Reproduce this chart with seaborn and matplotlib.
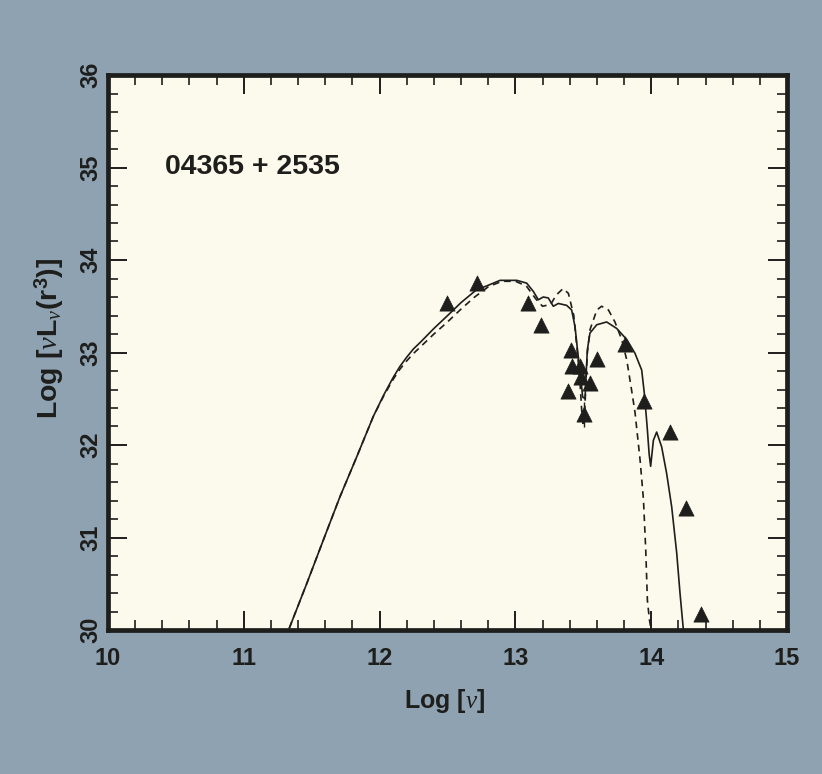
import matplotlib
matplotlib.use("Agg")
import matplotlib.pyplot as plt
import seaborn as sns
import pandas as pd
from matplotlib.ticker import MultipleLocator

# ---- data ----
model_solid_x = [11.335, 11.463, 11.585, 11.708, 11.831, 11.954, 12.03, 12.1, 12.15, 12.2,
                 12.25, 12.3, 12.4, 12.494, 12.6, 12.715, 12.789, 12.887, 13.01, 13.083,
                 13.132, 13.169, 13.205, 13.242, 13.279, 13.316, 13.377, 13.414, 13.439, 13.463,
                 13.488, 13.495, 13.513, 13.52, 13.53, 13.549, 13.599, 13.672, 13.746, 13.82,
                 13.881, 13.93, 13.95, 13.97, 13.985, 13.996, 14.016, 14.04, 14.077, 14.114,
                 14.151, 14.188, 14.212, 14.237]
model_solid_y = [30.02, 30.50, 30.97, 31.44, 31.87, 32.31, 32.54, 32.73, 32.85, 32.95,
                 33.04, 33.11, 33.26, 33.39, 33.54, 33.68, 33.72, 33.78, 33.78, 33.75,
                 33.66, 33.57, 33.60, 33.59, 33.50, 33.53, 33.51, 33.46, 33.28, 32.95,
                 32.63, 32.52, 32.50, 32.74, 33.03, 33.21, 33.30, 33.33, 33.26, 33.14,
                 32.99, 32.81, 32.55, 32.20, 31.90, 31.77, 32.05, 32.14, 31.98, 31.69,
                 31.33, 30.83, 30.40, 30.00]

model_dashed_x = [11.335, 11.463, 11.585, 11.708, 11.831, 11.954, 12.03, 12.1, 12.15, 12.2,
                  12.25, 12.3, 12.4, 12.5, 12.6, 12.7, 12.8, 12.9, 13.0, 13.08,
                  13.15, 13.2, 13.26, 13.3, 13.35, 13.39, 13.43, 13.46, 13.476, 13.488,
                  13.50, 13.51, 13.52, 13.53, 13.55, 13.6, 13.635, 13.685, 13.733, 13.783,
                  13.82, 13.856, 13.881, 13.918, 13.943, 13.96, 13.972, 13.987, 14.0]
model_dashed_y = [30.02, 30.50, 30.97, 31.44, 31.87, 32.31, 32.53, 32.71, 32.82, 32.91,
                  32.99, 33.06, 33.20, 33.33, 33.47, 33.60, 33.71, 33.77, 33.77, 33.72,
                  33.58, 33.50, 33.52, 33.62, 33.69, 33.64, 33.40, 32.95, 32.67, 32.38,
                  32.20, 32.35, 32.70, 33.00, 33.25, 33.46, 33.50, 33.46, 33.33, 33.14,
                  32.92, 32.59, 32.35, 31.84, 31.41, 30.86, 30.32, 30.11, 30.00]

obs_x = [12.494, 12.715, 13.091, 13.189, 13.409, 13.419, 13.476, 13.599, 13.483, 13.549,
         13.385, 13.507, 13.809, 13.947, 14.138, 14.256, 14.367]
obs_y = [33.54, 33.75, 33.54, 33.30, 33.03, 32.85, 32.85, 32.93, 32.73, 32.67,
         32.58, 32.33, 33.09, 32.48, 32.14, 31.32, 30.17]

label_text = "04365 + 2535"

# ---- style ----
bg = "#8ea2b1"
face = "#fbfaec"
ink = "#1e1e1c"

sns.set_style("ticks")
plt.rcParams['font.family'] = ['Liberation Sans', 'DejaVu Sans']
plt.rcParams['mathtext.fontset'] = 'custom'
plt.rcParams['mathtext.it'] = 'Liberation Serif:italic'
plt.rcParams['mathtext.rm'] = 'Liberation Sans:bold'
plt.rcParams['mathtext.bf'] = 'Liberation Sans:bold'

fig = plt.figure(figsize=(8.22, 7.74), dpi=100, facecolor=bg)
ax = fig.add_axes([108/822, 1-630/774, (787-108)/822, (630-75)/774])
ax.set_facecolor(face)

df_s = pd.DataFrame({"x": model_solid_x, "y": model_solid_y})
df_d = pd.DataFrame({"x": model_dashed_x, "y": model_dashed_y})
df_o = pd.DataFrame({"x": obs_x, "y": obs_y})

sns.lineplot(data=df_s, x="x", y="y", ax=ax, color=ink, lw=1.2, estimator=None, sort=False)
sns.lineplot(data=df_d, x="x", y="y", ax=ax, color=ink, lw=1.2, estimator=None, sort=False,
             linestyle=(0, (4, 3)))
sns.scatterplot(data=df_o, x="x", y="y", ax=ax, marker="^", s=120, color=ink,
                edgecolor=ink, linewidth=0.5, zorder=5)
# error bar on the deepest point
ax.errorbar([obs_x[11]], [obs_y[11]], yerr=[[0.13], [0.13]], fmt="none", ecolor=ink, elinewidth=1)

ax.set_xlim(10, 15)
ax.set_ylim(30, 36)
ax.xaxis.set_major_locator(MultipleLocator(1))
ax.xaxis.set_minor_locator(MultipleLocator(0.2))
ax.yaxis.set_major_locator(MultipleLocator(1))
ax.yaxis.set_minor_locator(MultipleLocator(0.2))
ax.tick_params(which="both", direction="in", top=True, right=True, color=ink)
ax.tick_params(which="major", length=14, width=1.4)
ax.tick_params(which="minor", length=7, width=1.2)
ax.tick_params(axis="x", which="major", labelsize=17, pad=12, labelcolor=ink)
ax.tick_params(axis="y", which="major", labelsize=17, pad=4, labelcolor=ink)
for lab in ax.get_xticklabels() + ax.get_yticklabels():
    lab.set_fontweight("bold")
for lab in ax.get_yticklabels():
    lab.set_rotation(90)
    lab.set_va("center")

for sp in ax.spines.values():
    sp.set_linewidth(3.4)
    sp.set_color(ink)

ax.set_xlabel(r"Log [$\it{\nu}$]", fontsize=18, fontweight="bold", color=ink)
ax.xaxis.set_label_coords((445-108)/679, (630-687)/555)
ax.set_ylabel(r"Log [$\it{\nu}$L$_{\it{\nu}}$(r$^{3}$)]", fontsize=20.5, fontweight="bold",
              color=ink)
ax.yaxis.set_label_coords((66-108)/679, (630-338)/555)

ax.text(10.42, 35.0, label_text, fontsize=20.5, fontweight="bold", color=ink, va="center", ha="left")

fig.savefig("out.png", dpi=100, facecolor=bg)
